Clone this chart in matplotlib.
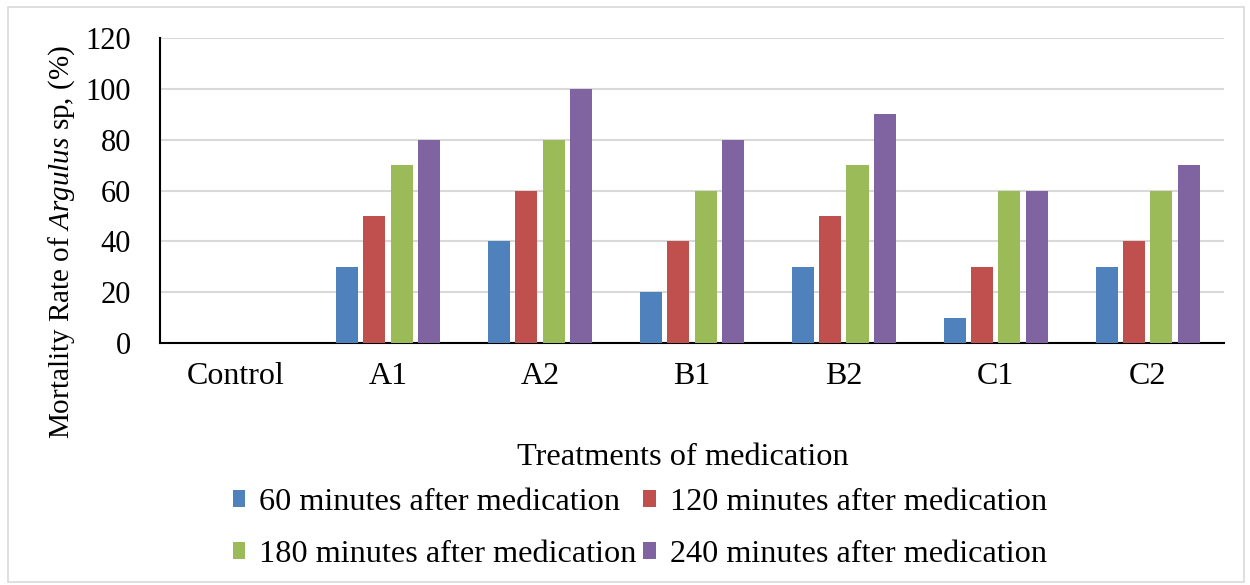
import matplotlib
matplotlib.use("Agg")
import matplotlib.pyplot as plt
import numpy as np
from matplotlib.patches import Rectangle

categories = ["Control", "A1", "A2", "B1", "B2", "C1", "C2"]
series_names = ["60 minutes after medication", "120 minutes after medication",
                "180 minutes after medication", "240 minutes after medication"]
m60 = [0, 30, 40, 20, 30, 10, 30]
m120 = [0, 50, 60, 40, 50, 30, 40]
m180 = [0, 70, 80, 60, 70, 60, 60]
m240 = [0, 80, 100, 80, 90, 60, 70]
colors = ["#4F81BD", "#C0504D", "#9BBB59", "#8064A2"]

plt.rcParams['font.family'] = ['Liberation Serif', 'DejaVu Serif']
plt.rcParams['mathtext.fontset'] = 'custom'
plt.rcParams['mathtext.rm'] = 'Liberation Serif'
plt.rcParams['mathtext.it'] = 'Liberation Serif:italic'

fig = plt.figure(figsize=(12.5, 5.85), dpi=100)
ax = fig.add_axes([0.128, 0.4137, 0.851, 0.5213])

x = np.arange(len(categories))
w = 0.145
step = 0.18
bars = []
for i, (vals, c, name) in enumerate(zip([m60, m120, m180, m240], colors, series_names)):
    bars.append(ax.bar(x + (i - 1.5) * step, vals, width=w, color=c, label=name, zorder=3))

ax.set_xlim(-0.5, len(categories) - 0.5)
ax.set_ylim(0, 120)
ax.set_yticks(range(0, 121, 20))
ax.set_xticks(x)
ax.set_xticklabels(categories)
ax.tick_params(axis='both', length=0)
ax.tick_params(axis='x', pad=14, labelsize=23)
ax.tick_params(axis='y', pad=21, labelsize=22)
ax.grid(axis='y', color='#d9d9d9', linewidth=1.5, zorder=0)
for s in ['top', 'right']:
    ax.spines[s].set_visible(False)
ax.spines['left'].set_linewidth(1.5)
ax.spines['bottom'].set_linewidth(1.5)

ax.set_xlabel("Treatments of medication", fontsize=23.3)
ax.xaxis.set_label_coords(0.4915, -0.377)
ax.xaxis.label.set_va('center')
ax.set_ylabel(r"Mortality Rate of $Argulus$ sp, (%)", fontsize=21)
ax.yaxis.set_label_coords(-0.092, 0.33)
ax.yaxis.label.set_va('center')

order = [0, 2, 1, 3]
fig.legend([bars[i] for i in order], [series_names[i] for i in order],
           loc='upper left', bbox_to_anchor=(0.186, 0.166), ncol=2, fontsize=23.2,
           frameon=False, handlelength=0.4, handleheight=0.4, handletextpad=0.42,
           columnspacing=0.22, labelspacing=0.72, borderaxespad=0, borderpad=0)

fig.patches.append(Rectangle((0.0065, 0.005), 0.989, 0.983, transform=fig.transFigure,
                             fill=False, edgecolor='#d9d9d9', linewidth=1.2))

fig.savefig("out.png", dpi=100)
